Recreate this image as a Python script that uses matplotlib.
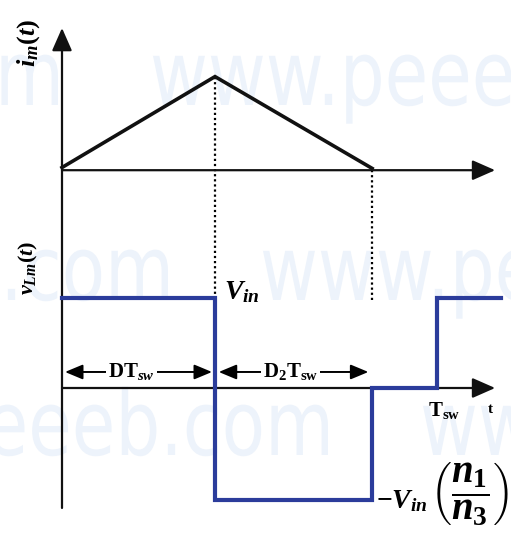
import matplotlib.pyplot as plt
from matplotlib.patches import PathPatch
from matplotlib.textpath import TextPath
from matplotlib.font_manager import FontProperties
from matplotlib.transforms import Affine2D, IdentityTransform

plt.rcParams['mathtext.fontset'] = 'custom'
plt.rcParams['mathtext.rm'] = 'Liberation Serif:bold'
plt.rcParams['mathtext.it'] = 'Liberation Serif:italic:bold'
plt.rcParams['mathtext.bf'] = 'Liberation Serif:bold'

# switching instants, normalised to T_sw
t_dt = 0.408      # end of DT_sw
t_d2 = 0.827      # end of D2T_sw
t_sw = 1.0

# magnetising current (triangle), same units as the voltage plot
t_im = [0.0, t_dt, t_d2]
i_m = [0.03, 1.04, 0.02]

# magnetising inductor voltage
v_in = 1.0
v_neg = -1.244    # -Vin*(n1/n3)
t_v = [0.0, t_dt, t_dt, t_d2, t_d2, t_sw, t_sw, 1.17]
v_lm = [v_in, v_in, v_neg, v_neg, 0.0, 0.0, v_in, v_in]

top_base = 2.42   # vertical offset of the current trace
t_end = 1.155     # x-axis arrow tips
y_tip = 4.0
y_bot = -1.333
y_dur = 0.178
blue = '#2b3c9b'

fig = plt.figure(figsize=(5.11, 5.48), dpi=100)

# faint background watermark
wm_font = FontProperties(family='DejaVu Sans')
wm_text = 'www.peeeb.com'
base_path = TextPath((0, 0), wm_text, size=1, prop=wm_font)
w1 = base_path.get_extents().width
sx, sy = 575 / w1, 90
for left, base in [(150, 105), (260, 300), (420, 455)]:
    for shift in (-670, 0):
        tr = Affine2D().scale(sx, sy).translate(left + shift, 548 - base)
        p = PathPatch(base_path, transform=tr + IdentityTransform(),
                      facecolor='#edf3fb', edgecolor='none', zorder=0)
        fig.add_artist(p)

ax = fig.add_axes([0, 0, 1, 1])
ax.set_facecolor('none')
ax.set_xlim(-62 / 375, 449 / 375)
ax.set_ylim(-160 / 90, 388 / 90)
ax.axis('off')

axis_arrow = dict(arrowstyle='-|>,head_length=0.5,head_width=0.22',
                  lw=1.6, color='#111111', mutation_scale=28,
                  shrinkA=0, shrinkB=0)

# shared vertical axis
ax.annotate('', xy=(0, y_tip), xytext=(0, y_bot), arrowprops=axis_arrow)
# time axes
ax.annotate('', xy=(t_end, top_base), xytext=(0, top_base), arrowprops=axis_arrow)
ax.annotate('', xy=(t_end, 0), xytext=(0, 0), arrowprops=axis_arrow)

# current triangle
ax.plot(t_im, [top_base + i for i in i_m], color='#111111', lw=2.6,
        solid_joinstyle='miter', zorder=3)

# voltage waveform
ax.plot(t_v, v_lm, color=blue, lw=3, solid_joinstyle='miter', zorder=4)

# dotted guides
ax.plot([t_dt, t_dt], [top_base + i_m[1], v_in], color='k', lw=1.6,
        ls=(0, (1, 1.3)), zorder=2)
ax.plot([t_d2, t_d2], [top_base, v_in - 0.02], color='k', lw=1.6,
        ls=(0, (1, 1.3)), zorder=2)

# interval arrows with labels
dur_arrow = dict(arrowstyle='<|-|>,head_length=0.6,head_width=0.25',
                 lw=1.4, color='k', mutation_scale=18, shrinkA=0, shrinkB=0)
ax.annotate('', xy=(0.008, y_dur), xytext=(t_dt - 0.008, y_dur),
            arrowprops=dur_arrow)
ax.annotate('', xy=(t_dt + 0.01, y_dur), xytext=(t_d2 - 0.01, y_dur),
            arrowprops=dur_arrow)
box = dict(facecolor='white', edgecolor='none', pad=1.5)
ax.text(0.185, y_dur, r'$\mathrm{DT}_{sw}$', fontsize=15, ha='center',
        va='center', bbox=box, zorder=5)
ax.text(0.61, y_dur, r'$\mathrm{D_2T_{sw}}$', fontsize=15, ha='center',
        va='center', bbox=box, zorder=5)

# labels
ax.text(-0.09, 3.83, r'$i_m(t)$', fontsize=19, rotation=90,
        ha='center', va='center')
ax.text(-0.09, 1.33, r'$v_{Lm}(t)$', fontsize=16, rotation=90,
        ha='center', va='center')
ax.text(t_dt + 0.025, 1.08, r'$V_{in}$', fontsize=20, ha='left', va='center')
ax.text(t_sw + 0.02, -0.25, r'$\mathrm{T_{sw}}$', fontsize=15,
        ha='center', va='center')
ax.text(1.143, -0.24, 't', fontsize=11, family='Liberation Serif',
        weight='bold', ha='center', va='center')
ax.text(t_d2 + 0.01, v_neg, r'$-V_{in}$', fontsize=20, ha='left', va='center')
ax.text(0.982, v_neg + 0.06, r'$\left(\dfrac{n_{\mathit{1}}}{n_{\mathit{3}}}\right)$',
        fontsize=28, ha='left', va='center')

fig.savefig('out.png', dpi=100)
